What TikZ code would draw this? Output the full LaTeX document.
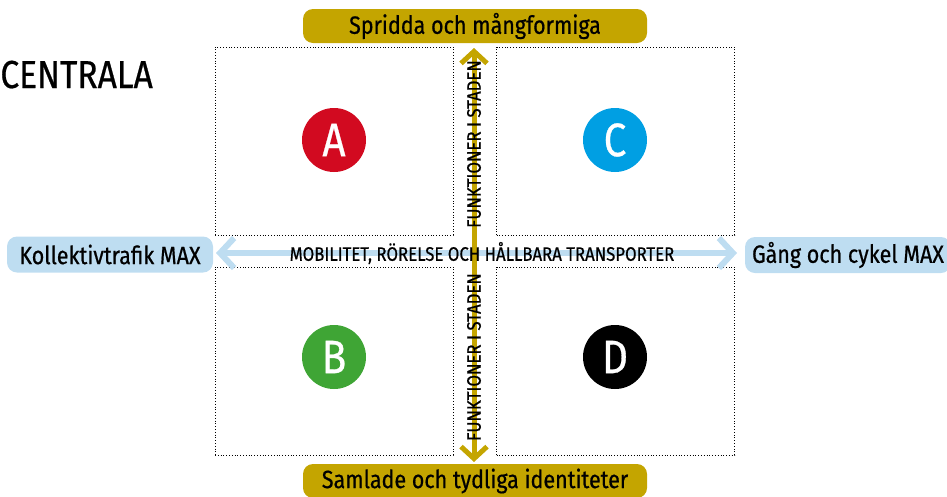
\documentclass[tikz,border=0pt]{standalone}
\usepackage{fontspec}
\setmainfont{Fira Sans}[FakeStretch=0.86, FakeBold=0.6]
\usetikzlibrary{arrows.meta}
\definecolor{axisgold}{HTML}{C4A500}
\definecolor{axisblue}{HTML}{BEDDF1}
\definecolor{redA}{HTML}{D20A20}
\definecolor{blueC}{HTML}{009FE3}
\definecolor{greenB}{HTML}{3FA535}
\begin{document}
\begin{tikzpicture}[x=1pt, y=-1pt, thick]
\tikzstyle{pill}=[rounded corners=10pt, minimum height=34pt, inner sep=0pt, text=black, font=\fontsize{25}{27}\selectfont]
\tikzstyle{quad}=[draw, dotted, line width=0.8pt, minimum width=238pt, minimum height=188pt, inner sep=0pt]
\tikzstyle{badge}=[circle, minimum size=64pt, inner sep=0pt, text=white, font=\fontsize{47}{47}\selectfont]
\tikzstyle{axislabel}=[inner sep=0pt, font=\fontsize{19.5}{21}\selectfont]
\useasboundingbox (0,0) rectangle (947,496);
  \node[anchor=base west, inner sep=0pt, font=\fontsize{39}{40}\selectfont] (title) at (0,88) {CENTRALA};
  % quadrants
  \foreach \place/\name in {{(334,141)/qa},
                            {(615.5,141)/qc},
                            {(334,361)/qb},
                            {(615.5,361)/qd}}
    \node[quad] (\name) at \place {};
  % axes
  \coordinate (west) at (216,253);
  \coordinate (east) at (737,253);
  \coordinate (north) at (474,48);
  \coordinate (south) at (474,462);
  \draw[axisblue, line width=6pt, {Straight Barb[length=14pt, width=30pt]}-{Straight Barb[length=14pt, width=30pt]}] (west) -- (east);
  \draw[axisgold, line width=5pt, {Straight Barb[length=12pt, width=26pt]}-{Straight Barb[length=12pt, width=26pt]}] (north) -- (south);
  % end points
  \node[pill, fill=axisgold, minimum width=344pt] (spread) at (475,26) {Spridda och mångformiga};
  \node[pill, fill=axisgold, minimum width=344pt] (gather) at (475,481) {Samlade och tydliga identiteter};
  \node[pill, fill=axisblue, minimum width=206pt, minimum height=36pt] (transit) at (110,254.5) {Kollektivtrafik MAX};
  \node[pill, fill=axisblue, minimum width=206pt, minimum height=36pt] (walk) at (848,255) {Gång och cykel MAX};
  % axis texts
  \node[axislabel] (mobility) at (482,253) {MOBILITET, RÖRELSE OCH HÅLLBARA TRANSPORTER};
  \node[axislabel, rotate=90] (funcup) at (474,144) {FUNKTIONER I STADEN};
  \node[axislabel, rotate=90] (funcdown) at (474,357) {FUNKTIONER I STADEN};
  % letters
  \foreach \place/\name/\col in {{(334,140)/A/redA},
                                 {(615,140)/C/blueC},
                                 {(334,357)/B/greenB},
                                 {(615,357)/D/black}}
    \node[badge, fill=\col] (\name) at \place {\name};
\end{tikzpicture}
\end{document}
